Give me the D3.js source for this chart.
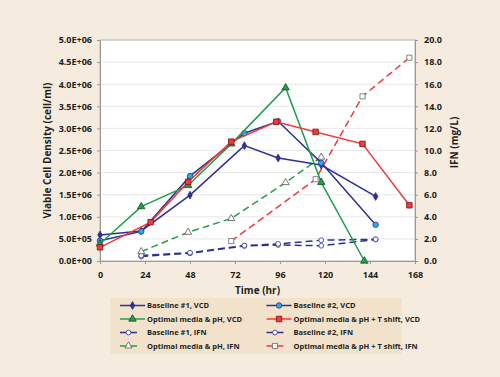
<!DOCTYPE html>
<html>
<head>
<meta charset="utf-8">
<script src="https://cdn.jsdelivr.net/npm/d3@7"></script>
<style>
  body { margin: 0; background: #f6ebdf; }
  text { font-family: "Open Sans", sans-serif; font-weight: bold; fill: #231f20; }
</style>
</head>
<body>
<script>
// time points (hr)
const b1Time = [0, 22, 48, 77, 95, 118, 147];
const b2Time = [0, 22, 48, 77, 95, 118, 147];
const optTime = [0, 22, 47, 70, 99, 118, 141];
const shiftTime = [0, 27, 47, 70, 94, 115, 140, 165];

// viable cell density (cell/ml)
const b1VCD = [5.9e5, 6.8e5, 1.49e6, 2.61e6, 2.33e6, 2.17e6, 1.46e6];
const b2VCD = [4.6e5, 6.7e5, 1.92e6, 2.89e6, 3.16e6, 2.22e6, 8.2e5];
const optVCD = [3.9e5, 1.23e6, 1.71e6, 2.65e6, 3.92e6, 1.78e6, 0];
const shiftVCD = [3.1e5, 8.8e5, 1.79e6, 2.7e6, 3.15e6, 2.92e6, 2.65e6, 1.26e6];

// IFN (mg/L)
const b1IfnTime = [22, 48, 77, 95, 118, 147];
const b1IFN = [0.4, 0.7, 1.36, 1.45, 1.38, 1.95];
const b2IfnTime = [22, 48, 77, 95, 118, 147];
const b2IFN = [0.5, 0.75, 1.4, 1.55, 1.88, 1.97];
const optIfnTime = [22, 47, 70, 99, 118];
const optIFN = [0.85, 2.6, 3.85, 7.1, 9.4];
const shiftIfnTime = [70, 115, 140, 165];
const shiftIFN = [1.8, 7.4, 14.9, 18.4];

const xTicks = [0, 24, 48, 72, 96, 120, 144, 168];
const vcdTicks = d3.range(0, 5.0001e6, 0.5e6);
const ifnTicks = d3.range(0, 20.001, 2);

const W = 500, H = 377;
const M = { left: 100, right: 85, top: 40, bottom: 116 };
const pw = W - M.left - M.right, ph = H - M.top - M.bottom;

const NAVY = "#2e3192", CYAN = "#29abe2", GREEN = "#1fa04a", RED = "#ef3b3b";

const svg = d3.select("body").append("svg").attr("width", W).attr("height", H);
const g = svg.append("g").attr("transform", `translate(${M.left},${M.top})`);

const x = d3.scaleLinear().domain([0, 168]).range([0, pw]);
const yL = d3.scaleLinear().domain([0, 5e6]).range([ph, 0]);
const yR = d3.scaleLinear().domain([0, 20]).range([ph, 0]);

g.append("rect").attr("width", pw).attr("height", ph).attr("fill", "#fff");

// gridlines
g.selectAll(".grid").data(vcdTicks.slice(1)).enter().append("line")
  .attr("x1", 0).attr("x2", pw)
  .attr("y1", d => yL(d)).attr("y2", d => yL(d))
  .attr("stroke", "#e2e2e2").attr("stroke-width", 0.8);

g.append("rect").attr("width", pw).attr("height", ph)
  .attr("fill", "none").attr("stroke", "#b8b8b8");

// axes
const fmtE = d => { const [m, e] = d3.format(".1e")(d).split("e"); return m + "E" + e[0] + e.slice(1).padStart(2, "0"); };
const xAxis = g.append("g").attr("transform", `translate(0,${ph})`)
  .call(d3.axisBottom(x).tickValues(xTicks).tickSize(3).tickPadding(6));
const lAxis = g.append("g")
  .call(d3.axisLeft(yL).tickValues(vcdTicks).tickSize(3).tickPadding(5).tickFormat(fmtE));
const rAxis = g.append("g").attr("transform", `translate(${pw},0)`)
  .call(d3.axisRight(yR).tickValues(ifnTicks).tickSize(3).tickPadding(6).tickFormat(d3.format(".1f")));
[xAxis, lAxis, rAxis].forEach(a => {
  a.selectAll("path, line").attr("stroke", "#999");
  a.selectAll("text").style("font-size", "9px");
});
xAxis.selectAll("text").attr("dy", "0.9em");

// axis titles
svg.append("text").attr("x", M.left + pw / 2).attr("y", 294)
  .attr("text-anchor", "middle").style("font-size", "10px").text("Time (hr)");
svg.append("text").attr("transform", `translate(51,${M.top + ph / 2}) rotate(-90)`)
  .attr("text-anchor", "middle").style("font-size", "10px").text("Viable Cell Density (cell/ml)");
svg.append("text").attr("transform", `translate(458,${M.top + ph / 2 - 8}) rotate(-90)`)
  .attr("text-anchor", "middle").style("font-size", "10px").text("IFN (mg/L)");

const series = [
  { name: "Baseline #1, IFN", t: b1IfnTime, v: b1IFN, y: yR, color: NAVY, dash: "7,4", shape: d3.symbolCircle, fill: "#fff", stroke: NAVY, size: 18 },
  { name: "Baseline #2, IFN", t: b2IfnTime, v: b2IFN, y: yR, color: NAVY, dash: "7,4", shape: d3.symbolCircle, fill: "#fff", stroke: NAVY, size: 18 },
  { name: "Optimal media & pH, IFN", t: optIfnTime, v: optIFN, y: yR, color: GREEN, dash: "7,4", shape: d3.symbolTriangle, fill: "#fff", stroke: "#555", size: 22 },
  { name: "Optimal media & pH + T shift, IFN", t: shiftIfnTime, v: shiftIFN, y: yR, color: RED, dash: "7,4", shape: d3.symbolSquare, fill: "#fff", stroke: "#666", size: 26 },
  { name: "Baseline #1, VCD", t: b1Time, v: b1VCD, y: yL, color: NAVY, dash: null, shape: d3.symbolDiamond, fill: NAVY, stroke: NAVY, size: 18 },
  { name: "Baseline #2, VCD", t: b2Time, v: b2VCD, y: yL, color: NAVY, dash: null, shape: d3.symbolCircle, fill: CYAN, stroke: NAVY, size: 24 },
  { name: "Optimal media & pH, VCD", t: optTime, v: optVCD, y: yL, color: GREEN, dash: null, shape: d3.symbolTriangle, fill: GREEN, stroke: "#1a4d2a", size: 24 },
  { name: "Optimal media & pH + T shift, VCD", t: shiftTime, v: shiftVCD, y: yL, color: RED, dash: null, shape: d3.symbolSquare, fill: RED, stroke: "#7a1010", size: 30 }
];

series.forEach(s => {
  const pts = s.t.map((t, i) => [t, s.v[i]]);
  g.append("path").datum(pts)
    .attr("fill", "none").attr("stroke", s.color).attr("stroke-width", 1.5)
    .attr("stroke-dasharray", s.dash)
    .attr("d", d3.line().x(d => x(d[0])).y(d => s.y(d[1])));
  g.selectAll(null).data(pts).enter().append("path")
    .attr("transform", d => `translate(${x(d[0])},${s.y(d[1])})`)
    .attr("d", d3.symbol().type(s.shape).size(s.size))
    .attr("fill", s.fill).attr("stroke", s.stroke).attr("stroke-width", 0.8);
});

// legend
const leg = svg.append("g").attr("transform", "translate(110,298)");
leg.append("rect").attr("width", 292).attr("height", 56).attr("fill", "#f2e1cb");
const order = [4, 5, 6, 7, 0, 1, 2, 3];
order.forEach((idx, k) => {
  const s = series[idx];
  const col = k % 2, row = Math.floor(k / 2);
  const lx = 10 + col * 146.5, ly = 7.5 + row * 13.5;
  const item = leg.append("g").attr("transform", `translate(${lx},${ly})`);
  const len = s.dash ? 17 : 25;
  item.append("line").attr("x1", 0).attr("x2", len).attr("y1", 0).attr("y2", 0)
    .attr("stroke", s.color).attr("stroke-width", 1.5);
  item.append("path").attr("transform", `translate(${len / 2},0)`)
    .attr("d", d3.symbol().type(s.shape).size(s.size))
    .attr("fill", s.fill).attr("stroke", s.stroke).attr("stroke-width", 0.8);
  item.append("text").attr("x", 27).attr("y", 0).attr("dy", "0.35em")
    .style("font-size", "7.5px").text(s.name);
});
</script>
</body>
</html>
